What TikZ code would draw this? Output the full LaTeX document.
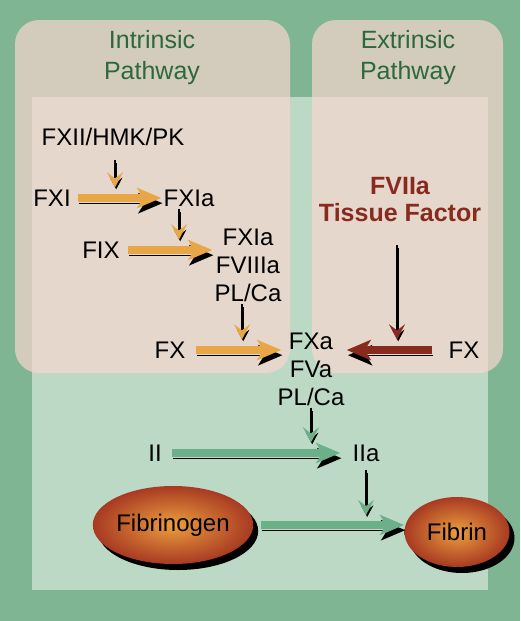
\documentclass[tikz,border=0pt]{standalone}
\usepackage{fontspec}
\setmainfont{Liberation Sans}
\usetikzlibrary{arrows.meta,shapes.geometric}
\definecolor{outergreen}{RGB}{127,181,146}
\definecolor{innergreen}{RGB}{188,217,198}
\definecolor{boxbeige}{RGB}{247,215,207}
\definecolor{titlegreen}{RGB}{44,104,62}
\definecolor{pathorange}{RGB}{232,166,70}
\definecolor{pathred}{RGB}{136,42,30}
\definecolor{pathgreen}{RGB}{108,176,138}
\begin{document}
\begin{tikzpicture}[x=0.5pt, y=-0.5pt,
    title/.style={text=titlegreen, font=\fontsize{12.5}{15.5}\selectfont, align=center},
    factor/.style={font=\fontsize{12}{14}\selectfont, align=center, inner sep=1pt},
    bigarrow/.style={draw=#1, line width=4pt, -{Stealth[length=12pt,width=10pt,inset=3pt]},
      preaction={draw=black, transform canvas={shift={(0.6pt,-2.6pt)}}}},
    smallarrow/.style={draw=black, line width=1pt,
      -{Stealth[length=7.5pt,width=8pt,inset=3pt,fill=#1,color=#1]},
      preaction={draw=black, -{Stealth[length=7.5pt,width=8pt,inset=3pt,fill=black,color=black]},
        transform canvas={shift={(0.6pt,-1.6pt)}}}},
    blob/.style={ellipse, inner sep=0pt, shading=radial, inner color={rgb,255:red,236;green,158;blue,62},
      outer color={rgb,255:red,168;green,58;blue,34}, font=\fontsize{12}{14}\selectfont,
      preaction={fill=black, transform canvas={shift={(2.5pt,-3pt)}}}}]
    \fill[outergreen] (0,0) rectangle (520,621);
    \fill[innergreen] (32,97) rectangle (488,590);
    \fill[boxbeige, opacity=0.7, rounded corners=12pt] (15,20) rectangle (290,373);
    \fill[boxbeige, opacity=0.7, rounded corners=12pt] (312,20) rectangle (503,373);
    \node[title] (intr) at (152,58) {Intrinsic\\Pathway};
    \node[title] (extr) at (408,58) {Extrinsic\\Pathway};
    \node[factor] (fxii) at (113,137) {FXII/HMK/PK};
    \node[factor] (fxi) at (52,198) {FXI};
    \node[factor] (fxia) at (189,198) {FXIa};
    \node[factor] (fix) at (101,250) {FIX};
    \node[factor] (tenase) at (248,265) {FXIa\\FVIIIa\\PL/Ca};
    \node[factor] (fx) at (170,350) {FX};
    \node[factor] (prothr) at (311,369) {FXa\\FVa\\PL/Ca};
    \node[factor, text=pathred, font=\bfseries\fontsize{12.5}{13.5}\selectfont] (tf) at (400,200) {FVIIa\\Tissue Factor};
    \node[factor] (fxext) at (464,350) {FX};
    \node[factor] (ii) at (155,453) {II};
    \node[factor] (iia) at (366,453) {IIa};
    \node[blob, minimum width=75pt, minimum height=39pt] (fbg) at (173,525) {Fibrinogen};
    \node[blob, minimum width=52.5pt, minimum height=35pt] (fbn) at (457,532) {Fibrin};
    \draw[bigarrow=pathorange, shorten <=2.5pt] (fxi.east) -- (fxia.west);
    \draw[bigarrow=pathorange, shorten <=3pt] (fix.east) -- (fix.east -| tenase.west);
    \draw[bigarrow=pathorange, shorten <=4pt, shorten >=-3pt] (fx.east) -- (fx.east -| prothr.west);
    \draw[bigarrow=pathred, shorten <=7pt] (fxext.west) -- (fxext.west -| prothr.east);
    \draw[bigarrow=pathgreen, shorten <=4pt, shorten >=5pt] (ii.east) -- (iia.west);
    \draw[bigarrow=pathgreen, shorten <=3.5pt] (fbg.east) -- (fbg.east -| fbn.west);
    \draw[smallarrow=pathorange, shorten <=6pt] ([xshift=1pt]fxii.south) -- ([xshift=1pt]fxii.south |- fxi.north);
    \draw[smallarrow=pathorange] ([xshift=-5pt]fxia.south) -- ([xshift=-5pt]fxia.south |- fix.north);
    \draw[smallarrow=pathorange] ([xshift=-3pt]tenase.south) -- ([xshift=-3pt]tenase.south |- fx.north);
    \draw[smallarrow=pathred, shorten <=10pt] ([xshift=-1.5pt]tf.south) -- ([xshift=-1.5pt]tf.south |- fxext.north);
    \draw[smallarrow=pathgreen] (prothr.south) -- (prothr.south |- ii.north);
    \draw[smallarrow=pathgreen, shorten <=3pt, shorten >=5pt] (iia.south) -- (iia.south |- fbg.east);
\end{tikzpicture}
\end{document}
